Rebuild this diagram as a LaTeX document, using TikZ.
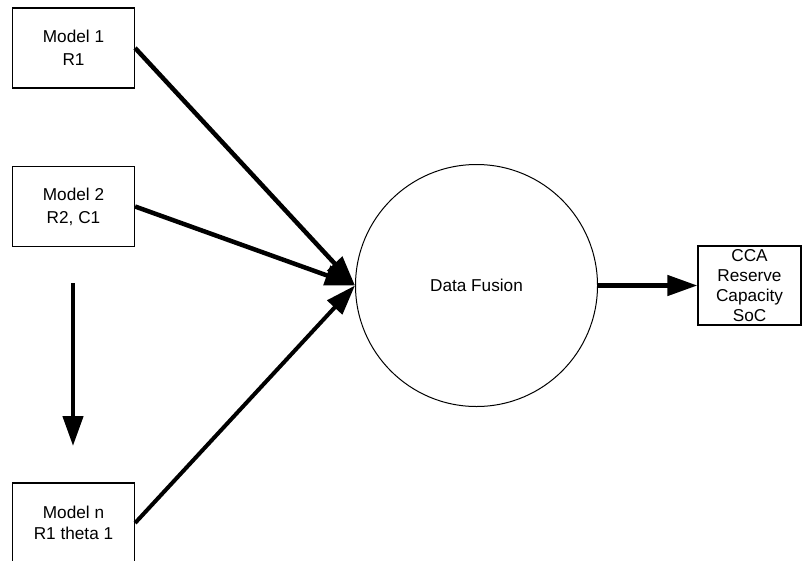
\documentclass[tikz,border=0pt]{standalone}
\usepackage{fontspec}
\setmainfont{Liberation Sans}
\usetikzlibrary{arrows.meta}
\begin{document}
\begin{tikzpicture}[x=1pt,y=-1pt,
  modelbox/.style={draw=black,line width=1.2pt,minimum width=122pt,minimum height=80pt,inner sep=0pt,align=center},
  bigarrow/.style={line width=4.5pt,-{Triangle[length=30pt,width=20pt]}},
  lbl/.style={font=\fontsize{17.2}{23}\selectfont}
]
\useasboundingbox (0,0) rectangle (810,560);
\node[modelbox,lbl] (m1) at (73.5,48) {Model 1\\R1};
\node[modelbox,lbl] (m2) at (73.5,206.5) {Model 2\\R2, C1};
\node[modelbox,font=\fontsize{17.2}{20.5}\selectfont] (mn) at (73.5,523) {Model n\\R1 theta 1};
\node[draw=black,line width=1pt,circle,minimum size=242pt,inner sep=0pt,lbl] (df) at (476.5,285.5) {Data Fusion};
\node[draw=black,line width=1.2pt,minimum width=103pt,minimum height=79pt,inner sep=0pt,align=center,font=\fontsize{17.2}{20}\selectfont] (out) at (749.5,285.5) {CCA\\Reserve\\Capacity\\SoC};
\coordinate (vs) at (73,283);
\coordinate (ve) at (73,446);
\draw[bigarrow] (m1.east) -- (df.west);
\draw[bigarrow] (m2.east) -- (df.west);
\draw[bigarrow,line width=4pt] (mn.east) -- (df.west);
\draw[bigarrow] (vs) -- (ve);
\draw[bigarrow] (df.east) -- (out.west);
\end{tikzpicture}
\end{document}
